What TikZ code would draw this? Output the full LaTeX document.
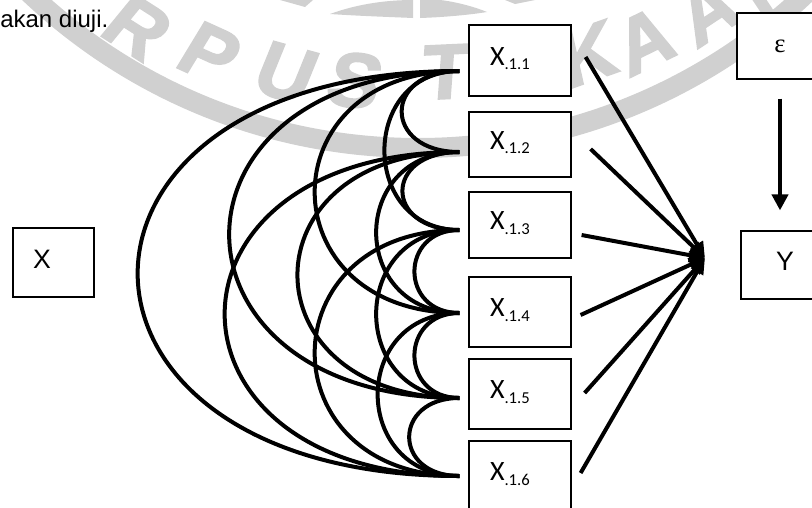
\documentclass[tikz,border=0pt]{standalone}
\usepackage{fontspec}
\setmainfont{Liberation Sans}
\newfontfamily\calibrifont{Carlito}
\newfontfamily\greekfont{Liberation Serif}
\newfontfamily\wmfont[FakeBold=2.5,FakeSlant=0.12]{Liberation Sans Bold}
\usetikzlibrary{arrows.meta,calc}
\definecolor{wmgray}{RGB}{208,208,208}
\newcommand{\xlab}[1]{X\raisebox{-3.4pt}{\fontsize{12.5pt}{14pt}\selectfont .1.#1}}
\begin{document}
\begin{tikzpicture}[x=0.75pt,y=-0.75pt,
  xbox/.style={draw=black, line width=0.9pt, fill=white, inner xsep=15.75pt, inner ysep=0pt,
    text width=45pt, align=left, text height=14pt, text depth=7pt,
    font=\calibrifont\fontsize{21pt}{24pt}\selectfont},
  plainbox/.style={draw=black, line width=0.9pt, fill=white, inner sep=0pt},
  arcline/.style={line width=3pt},
  arr/.style={line width=3pt, -{Triangle[length=12pt,width=10pt]}},
  wmletter/.style={text=wmgray, font=\wmfont\fontsize{58pt}{60pt}\selectfont, inner sep=0pt}]
\useasboundingbox (0,0) rectangle (812,507);
\clip (0,0) rectangle (812,507);
% watermark
\draw[wmgray, line width=15pt] (418,-417) circle[radius=565];
\foreach \l/\px/\py/\rot in {R/135/26/-32.5, P/207/52/-24.4, U/283/72/-15.3, S/352/80/-7.8, T/443/72/2.6, K/585/55/19.5, A/642/42/25.9, A/705/12/33.4, N/765/-18/40.4}
  \node[wmletter, rotate=\rot] at (\px,\py) {\l};
\fill[wmgray] (330,14) .. controls (360,3) and (390,0) .. (413,0) -- (413,18) .. controls (390,17) and (360,16) .. cycle;
\fill[wmgray] (420,0) -- (420,18) .. controls (450,17) and (475,14) .. (487,12) .. controls (470,5) and (450,1) .. (440,0) -- cycle;
\fill[wmgray] (280,0) -- (313,0) -- (305,7) -- cycle;
\fill[wmgray] (505,0) -- (535,0) -- (515,4) -- cycle;
% text at top
\node[anchor=base west, inner sep=0pt, font=\fontsize{18pt}{22pt}\selectfont] (cap) at (0,27) {akan diuji.};
% boxes
\node[xbox, minimum height=53.25pt] (b1) at (520,60.5) {\xlab{1}};
\node[xbox, minimum height=48.75pt] (b2) at (520,144.5) {\xlab{2}};
\node[xbox, minimum height=49.5pt] (b3) at (520,225) {\xlab{3}};
\node[xbox, minimum height=52.5pt] (b4) at (520,312) {\xlab{4}};
\node[xbox, minimum height=52.5pt] (b5) at (520,394) {\xlab{5}};
\node[xbox, minimum height=52.5pt] (b6) at (520,476) {\xlab{6}};
\node[plainbox, minimum width=60.75pt, minimum height=51.75pt, inner xsep=15pt, text width=30.75pt, align=left,
  text height=14.3pt, text depth=6pt, font=\fontsize{20pt}{24pt}\selectfont] (X) at (53.5,262.5) {X};
\node[plainbox, minimum width=66pt, minimum height=51pt, text height=14.3pt, text depth=6pt,
  font=\fontsize{20pt}{24pt}\selectfont] (Y) at (785,265) {Y};
\node[plainbox, minimum width=64.5pt, minimum height=49.5pt, font=\greekfont\fontsize{20pt}{24pt}\selectfont] (eps) at (780,46) {ε};
% arc end points
\coordinate (p1) at ($(b1.west)+(-9,10.5)$);
\coordinate (p2) at ($(b2.west)+(-9,7.5)$);
\coordinate (p3) at ($(b3.west)+(-9,5)$);
\coordinate (p4) at ($(b4.west)+(-9,1)$);
\coordinate (p5) at ($(b5.west)+(-9,4)$);
\coordinate (p6) at ($(b6.west)+(-9,0)$);
\foreach \i/\j/\k in {1/2/77, 2/3/76, 3/4/60, 4/5/60, 5/6/67, 1/3/100, 2/4/111, 3/5/111, 4/6/109, 1/4/193, 2/5/216, 3/6/193, 1/5/307, 2/6/313, 1/6/429}
  \draw[arcline] (p\i) .. controls ($(p\i)+(-\k,0)$) and ($(p\j)+(-\k,0)$) .. (p\j);
% arrows to Y
\coordinate (tip) at (705,258);
\draw[arr] ($(b1.east)+(14,-3.5)$) -- (tip);
\draw[arr] ($(b2.east)+(19,4.5)$) -- (tip);
\draw[arr] ($(b3.east)+(10,10)$) -- (tip);
\draw[arr] ($(b4.east)+(9,3)$) -- (tip);
\draw[arr] ($(b5.east)+(13,-1)$) -- (tip);
\draw[arr] ($(b6.east)+(9,-3)$) -- (tip);
\draw[line width=3.5pt, -{Triangle[length=12pt,width=12pt]}] ($(eps.south)+(0,19)$) -- ($(eps.south |- Y.north)+(0,-20)$);
\end{tikzpicture}
\end{document}
